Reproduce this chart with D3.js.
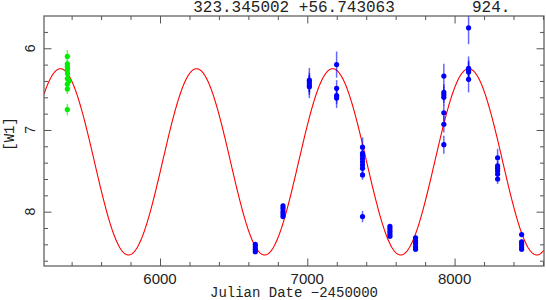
<!DOCTYPE html>
<meta charset="utf-8">
<style>
  body { margin: 0; background: #fff; }
</style>

<!-- Load d3.js -->
<script src="https://d3js.org/d3.v7.min.js"></script>

<!-- Create a div where the graph will take place -->
<div id="my_dataviz"></div>

<script>

  // ---- data ----
  // [julian date - 2450000, W1 mag, error]
  var greenPoints = [
    [5371, 6.10, 0.08], [5371, 6.19, 0.05], [5371, 6.22, 0.05], [5372, 6.245, 0.05],
    [5371, 6.27, 0.05], [5372, 6.31, 0.05], [5371, 6.37, 0.05], [5382, 6.40, 0.05],
    [5371, 6.44, 0.05], [5371, 6.50, 0.06], [5371, 6.75, 0.07]
  ];

  var bluePoints = [
    [6647, 8.40, 0.03], [6647, 8.43, 0.03], [6647, 8.46, 0.03], [6647, 8.49, 0.03],
    [6835, 7.93, 0.03], [6835, 7.96, 0.03], [6835, 8.00, 0.03], [6835, 8.03, 0.03], [6835, 8.06, 0.03],
    [7014, 6.39, 0.15], [7014, 6.42, 0.12], [7014, 6.45, 0.12], [7014, 6.47, 0.14],
    [7199, 6.20, 0.16], [7199, 6.49, 0.10], [7199, 6.58, 0.10], [7199, 6.61, 0.12],
    [7375, 7.21, 0.12], [7375, 7.285, 0.06], [7375, 7.31, 0.06], [7375, 7.35, 0.06],
    [7375, 7.39, 0.06], [7375, 7.43, 0.06], [7375, 7.47, 0.06], [7375, 7.55, 0.06],
    [7375, 8.06, 0.07],
    [7561, 8.18, 0.03], [7561, 8.21, 0.03], [7561, 8.24, 0.03], [7561, 8.27, 0.03], [7561, 8.30, 0.03],
    [7735, 8.32, 0.03], [7735, 8.36, 0.03], [7735, 8.39, 0.03], [7735, 8.43, 0.03], [7735, 8.46, 0.03],
    [7927, 6.34, 0.15], [7927, 6.54, 0.10], [7927, 6.57, 0.10], [7927, 6.60, 0.10],
    [7927, 6.79, 0.10], [7927, 6.93, 0.10], [7927, 7.18, 0.11],
    [8095, 5.75, 0.20], [8095, 6.245, 0.145], [8095, 6.27, 0.12], [8095, 6.29, 0.12], [8095, 6.38, 0.16],
    [8292, 7.34, 0.11], [8292, 7.44, 0.06], [8292, 7.47, 0.06], [8292, 7.50, 0.06],
    [8292, 7.54, 0.06], [8292, 7.60, 0.06],
    [8455, 8.28, 0.03], [8455, 8.37, 0.03], [8455, 8.40, 0.03], [8455, 8.43, 0.03], [8455, 8.46, 0.03]
  ];

  // sinusoid fit: [period, epoch of max, mean mag, semi-amplitude]
  var fitParams = [924, 8096, 7.39, 1.14];

  var xTicks = [6000, 7000, 8000];
  var yTicks = [6, 7, 8];
  var titleRaDec = "323.345002 +56.743063";
  var titlePeriod = "924.";

  // set the dimensions and margins of the graph
  var margin = {top: 16, right: 2, bottom: 34, left: 44},
    width = 546 - margin.left - margin.right,
    height = 300 - margin.top - margin.bottom;

  var svg = d3.select("#my_dataviz")
    .append("svg")
      .attr("width", 546)
      .attr("height", 300)
    .append("g")
      .attr("transform", "translate(" + margin.left + "," + margin.top + ")");

  var x = d3.scaleLinear().domain([5212.5, 8607]).range([0, width]);
  // magnitudes: bright at the top
  var y = d3.scaleLinear().domain([5.605, 8.665]).range([0, height]);

  var frame = "#555";

  // ticks on all four sides, major + minor
  var xMinor = d3.range(5400, 8601, 200).filter(function(d){ return xTicks.indexOf(d) < 0 });
  var yMinor = d3.range(5.8, 8.61, 0.2).filter(function(d){ return Math.abs(d - Math.round(d)) > 0.01 });

  function addAxis(axis, tv, len, tr) {
    var g = svg.append("g").attr("transform", tr)
      .call(axis.tickValues(tv).tickSize(len).tickFormat(""));
    g.select(".domain").remove();
    g.selectAll("line").attr("stroke", frame);
  }
  addAxis(d3.axisTop(x), xTicks, 7.5, "translate(0," + height + ")");
  addAxis(d3.axisTop(x), xMinor, 4, "translate(0," + height + ")");
  addAxis(d3.axisBottom(x), xTicks, 7.5, "translate(0,0)");
  addAxis(d3.axisBottom(x), xMinor, 4, "translate(0,0)");
  addAxis(d3.axisRight(y), yTicks, 7.5, "translate(0,0)");
  addAxis(d3.axisRight(y), yMinor, 4, "translate(0,0)");
  addAxis(d3.axisLeft(y), yTicks, 7.5, "translate(" + width + ",0)");
  addAxis(d3.axisLeft(y), yMinor, 4, "translate(" + width + ",0)");

  // tick labels
  svg.selectAll("xlab")
    .data(xTicks)
    .enter()
    .append("text")
      .attr("x", function(d){ return x(d) })
      .attr("y", height + 18)
      .attr("text-anchor", "middle")
      .style("font", "15px 'Liberation Sans', Arial, sans-serif")
      .style("fill", "#222")
      .text(function(d){ return d });

  svg.selectAll("ylab")
    .data(yTicks)
    .enter()
    .append("text")
      .attr("transform", function(d){ return "translate(-9.5," + y(d) + ") rotate(-90)" })
      .attr("text-anchor", "middle")
      .style("font", "14px 'Liberation Sans', Arial, sans-serif")
      .style("fill", "#222")
      .text(function(d){ return d });

  // the fitted curve
  var curveT = d3.range(5212.5, 8607.5, 4);
  var line = d3.line()
    .x(function(t){ return x(t) })
    .y(function(t){
      return y(fitParams[2] - fitParams[3] * Math.cos(2 * Math.PI * (t - fitParams[1]) / fitParams[0]));
    });

  svg.append("clipPath").attr("id", "clip")
    .append("rect").attr("width", width).attr("height", height);

  var plot = svg.append("g").attr("clip-path", "url(#clip)");

  plot.append("path")
    .datum(curveT)
    .attr("d", line)
    .style("fill", "none")
    .attr("stroke", "#ff0000")
    .attr("stroke-width", 1.1);

  // error bars and points
  function drawPoints(data, col) {
    plot.selectAll(null)
      .data(data)
      .enter()
      .append("line")
        .attr("x1", function(d){ return x(d[0]) })
        .attr("x2", function(d){ return x(d[0]) })
        .attr("y1", function(d){ return y(d[1] - d[2]) })
        .attr("y2", function(d){ return y(d[1] + d[2]) })
        .attr("stroke", col)
        .attr("stroke-opacity", 0.6)
        .attr("stroke-width", 1.5);
    plot.selectAll(null)
      .data(data)
      .enter()
      .append("circle")
        .attr("cx", function(d){ return x(d[0]) })
        .attr("cy", function(d){ return y(d[1]) })
        .attr("r", 2.6)
        .style("fill", col);
  }
  drawPoints(greenPoints, "#00ee00");
  drawPoints(bluePoints, "#0000ff");

  // frame
  svg.append("rect")
    .attr("width", width)
    .attr("height", height)
    .style("fill", "none")
    .attr("stroke", frame)
    .attr("stroke-width", 1.2);

  // titles
  var mono = "'Liberation Mono', 'Courier New', monospace";
  svg.append("text")
    .attr("x", width / 2)
    .attr("y", -4.5)
    .attr("text-anchor", "middle")
    .style("font", "16px " + mono)
    .style("fill", "#222")
    .text(titleRaDec);

  svg.append("text")
    .attr("x", 428)
    .attr("y", -4.5)
    .style("font", "16px " + mono)
    .style("fill", "#222")
    .text(titlePeriod);

  svg.append("text")
    .attr("x", width / 2)
    .attr("y", height + 30.5)
    .attr("text-anchor", "middle")
    .style("font", "14px " + mono)
    .style("fill", "#222")
    .text("Julian Date \u22122450000");

  svg.append("text")
    .attr("transform", "translate(-30," + (y(7) + 4) + ") rotate(-90)")
    .attr("text-anchor", "middle")
    .style("font", "14px " + mono)
    .style("fill", "#222")
    .text("[W1]");

</script>
